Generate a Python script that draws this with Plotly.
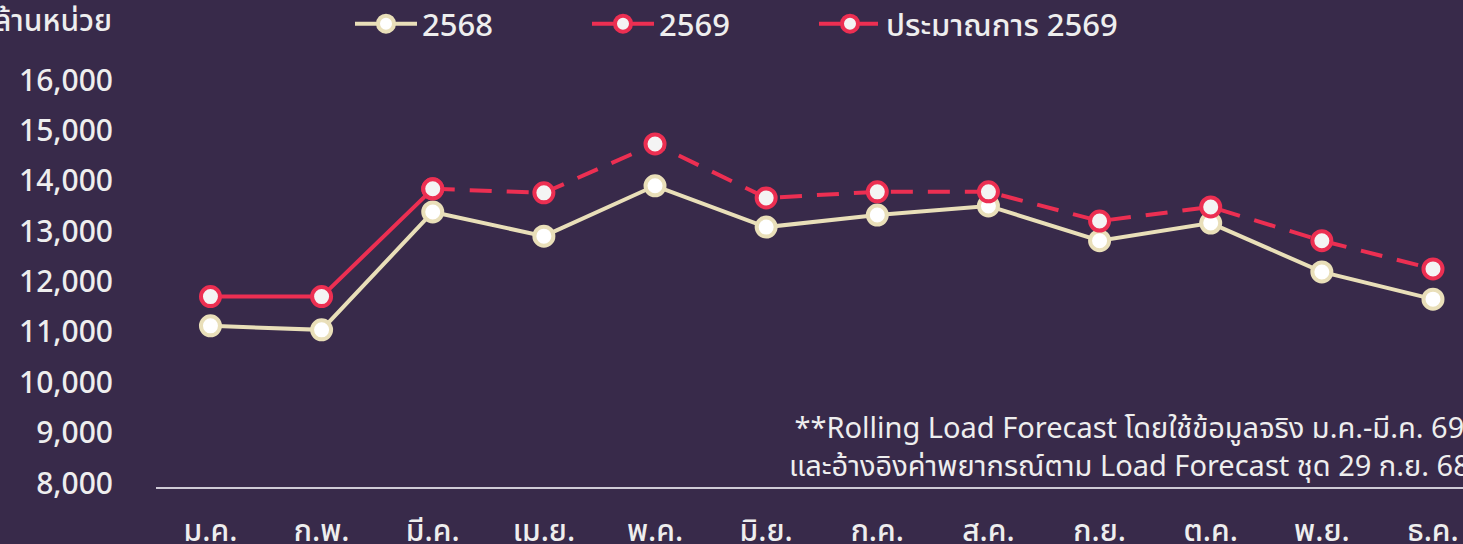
import plotly.graph_objects as go

# ---- data ----
months = ["ม.ค.", "ก.พ.", "มี.ค.", "เม.ย.", "พ.ค.", "มิ.ย.",
          "ก.ค.", "ส.ค.", "ก.ย.", "ต.ค.", "พ.ย.", "ธ.ค."]
y2568 = [11120, 11040, 13380, 12900, 13900, 13080,
         13320, 13500, 12810, 13160, 12190, 11650]
months_2569 = ["ม.ค.", "ก.พ.", "มี.ค."]
y2569 = [11700, 11700, 13840]
months_fc = ["มี.ค.", "เม.ย.", "พ.ค.", "มิ.ย.", "ก.ค.", "ส.ค.",
             "ก.ย.", "ต.ค.", "พ.ย.", "ธ.ค."]
fc2569 = [13840, 13760, 14730, 13660, 13780, 13780,
          13200, 13480, 12810, 12250]
y_ticks = [8000, 9000, 10000, 11000, 12000, 13000, 14000, 15000, 16000]
y_tick_labels = ["8,000", "9,000", "10,000", "11,000", "12,000",
                 "13,000", "14,000", "15,000", "16,000"]
unit_label = "ล้านหน่วย"
note_text = ("**Rolling Load Forecast โดยใช้ข้อมูลจริง ม.ค.-มี.ค. 69<br>"
             "และอ้างอิงค่าพยากรณ์ตาม Load Forecast ชุด 29 ก.ย. 68")

BG = "#382a4a"
CREAM = "#e9dfb9"
RED = "#ec2f52"
TXT = "#eeeeee"
FONT = "Noto Sans Thai, Noto Sans, sans-serif"

W, H = 1463, 544
L, R, T, B = 156, 0, 60, 57
PW, PH = W - L - R, H - T - B

def px_x(p):
    return (p - L) / PW

def px_y(p):
    return (H - B - p) / PH

fig = go.Figure()

fig.add_trace(go.Scatter(
    x=months, y=y2568, name="2568", mode="lines+markers",
    line=dict(color=CREAM, width=4),
    marker=dict(size=19, color="#ffffff", line=dict(color=CREAM, width=4)),
    legend="legend", showlegend=True,
))
fig.add_trace(go.Scatter(
    x=months_fc, y=fc2569, name="ประมาณการ 2569", mode="lines+markers",
    line=dict(color=RED, width=4, dash="22px,15px"),
    marker=dict(size=19, color="#f4f4f4", line=dict(color=RED, width=4)),
    legend="legend3", showlegend=True,
))
fig.add_trace(go.Scatter(
    x=months_2569, y=y2569, name="2569", mode="lines+markers",
    line=dict(color=RED, width=4),
    marker=dict(size=19, color="#f4f4f4", line=dict(color=RED, width=4)),
    legend="legend2", showlegend=True,
))

legend_common = dict(orientation="h", xanchor="left", yanchor="middle",
                     bgcolor="rgba(0,0,0,0)", itemwidth=62,
                     font=dict(family=FONT, size=31, color=TXT, weight=500))
fig.update_layout(
    width=W, height=H, showlegend=True,
    margin=dict(l=L, r=R, t=T, b=B, pad=0, autoexpand=False),
    paper_bgcolor=BG, plot_bgcolor=BG,
    font=dict(family=FONT, size=29, color=TXT),
    legend=dict(x=px_x(350), y=px_y(24), **legend_common),
    legend2=dict(x=px_x(587), y=px_y(24), **legend_common),
    legend3=dict(x=px_x(814), y=px_y(24), **legend_common),
    xaxis=dict(
        type="category", categoryorder="array", categoryarray=months,
        range=[-0.49, 11.27], showgrid=False, zeroline=False,
        showline=True, linecolor="#cfcbd6", linewidth=2,
        ticks="", ticklabelstandoff=16, automargin=False,
        tickfont=dict(family=FONT, size=30, color=TXT, weight=500),
    ),
    yaxis=dict(
        range=[7921, 16397], tickvals=y_ticks, ticktext=y_tick_labels,
        showgrid=False, zeroline=False, showline=False, ticks="",
        ticklabelstandoff=42, automargin=False,
        tickfont=dict(family=FONT, size=30, color=TXT, weight=500),
    ),
    annotations=[
        dict(text=unit_label, xref="paper", yref="paper",
             x=px_x(114), y=px_y(22), xanchor="right", yanchor="middle",
             showarrow=False,
             font=dict(family=FONT, size=30, color=TXT, weight=500)),
        dict(text=note_text, xref="paper", yref="paper",
             x=px_x(1129), y=px_y(448), xanchor="center", yanchor="middle",
             align="center", showarrow=False,
             font=dict(family=FONT, size=29, color=TXT)),
    ],
)

fig.write_html("out.html",
               config={"displayModeBar": False},
               post_script="document.body.style.margin='0';")
